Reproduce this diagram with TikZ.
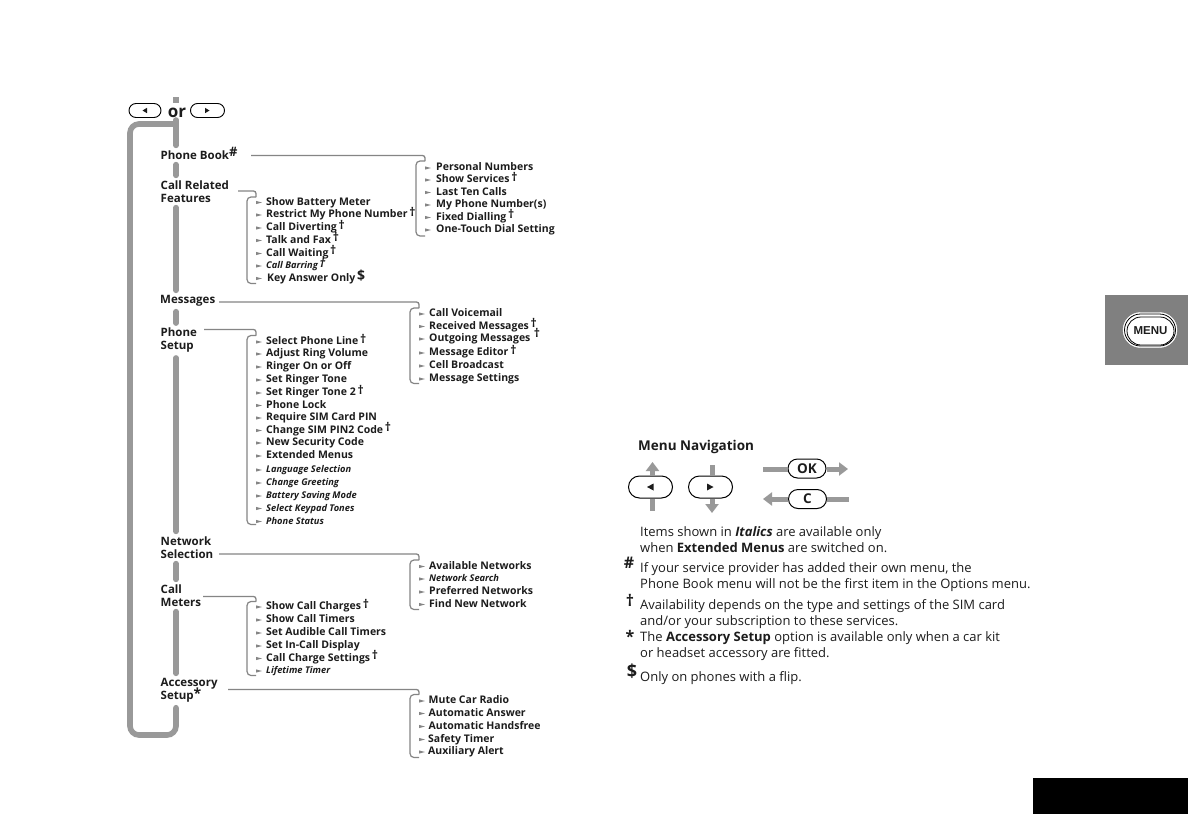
\documentclass[tikz,border=0pt]{standalone}
\usepackage{fontspec}
\setmainfont{Open Sans}
\newfontfamily\menufont{Liberation Sans}
\usetikzlibrary{shapes.misc,arrows.meta,calc}
\definecolor{sp}{HTML}{999999}
\definecolor{cn}{HTML}{858585}
\definecolor{ink}{HTML}{1C1C1C}
\newcommand{\mydg}{\,\smash{\raisebox{1.5pt}{\fontsize{12}{12}\selectfont\bfseries †}}}
\newcommand{\myhs}{\smash{\raisebox{3pt}{\fontsize{13}{13}\selectfont\bfseries \#}}}
\newcommand{\mydl}{\smash{\raisebox{0.5pt}{\fontsize{14}{14}\selectfont\bfseries \$}}}
\newcommand{\myast}{\smash{\raisebox{1pt}{\fontsize{14}{14}\selectfont\bfseries *}}}
\newcommand{\ital}{\fontsize{9.3}{10}\selectfont\itshape}
\newcommand{\wedgetick}[1]{\fill[cn] (#1) ++(0,-1.6) -- ++(6,1.6) -- ++(-6,1.6) -- cycle;}
\tikzset{
  x=1pt,y=-1pt,
  headlab/.style={anchor=west,align=left,inner sep=0pt,font=\fontsize{11.5}{13}\selectfont\bfseries,text=ink},
  itemlab/.style={anchor=west,inner sep=0pt,yshift=-1pt,text height=7.5pt,text depth=2pt,font=\fontsize{10.5}{12}\selectfont\bfseries,text=ink},
  spine/.style={line width=5.6pt,draw=sp,line cap=round,shorten <=5pt,shorten >=5pt},
  conn/.style={line width=1.3pt,draw=cn,rounded corners=2.5pt},
  brk/.style={line width=1.2pt,draw=cn,rounded corners=4pt},
  pill/.style={rounded rectangle,draw=black,line width=1pt,inner sep=0pt,fill=white,text=ink},
  bodytxt/.style={anchor=west,inner sep=0pt,yshift=-1pt,text height=9pt,text depth=3pt,font=\fontsize{13}{14}\selectfont,text=ink},
  notemark/.style={anchor=center,inner sep=0pt,font=\fontsize{16}{16}\selectfont\bfseries,text=ink},
  navline/.style={line width=5pt,draw=sp},
  navarrow/.style={line width=5pt,draw=sp,-{Triangle[width=13pt,length=9pt]}},
}
\begin{document}
\begin{tikzpicture}
\useasboundingbox (0,0) rectangle (1188,838);
\fill[white] (0,0) rectangle (1188,838);

% top buttons
\node[pill,minimum width=32pt,minimum height=14pt,line width=.9pt] (bl) at (145,110.5) {};
\node[pill,minimum width=34pt,minimum height=14pt,line width=.9pt] (br) at (207.5,110.5) {};
\fill[ink] (142.5,110.5)--(147,107.8)--(147,113.2)--cycle;
\fill[ink] (209.5,110.5)--(205,107.8)--(205,113.2)--cycle;
\node[anchor=center,inner sep=0pt,font=\fontsize{17}{17}\selectfont\bfseries,text=ink] (orw) at (177,112.5) {or};

% column
\node[headlab] (pb) at (160.5,155) {Phone Book\myhs};
\node[headlab] (crf) at (160.5,191.5) {Call Related\\Features};
\node[headlab] (msg) at (160,301) {Messages};
\node[headlab] (ps) at (160.5,340.5) {Phone\\Setup};
\node[headlab] (ns) at (160.5,547.5) {Network\\Selection};
\node[headlab] (cm) at (160.5,595.5) {Call\\Meters};
\node[headlab] (as) at (160.5,690.5) {Accessory\\Setup\myast};

\coordinate (col) at (176,0);
\coordinate (topc) at (176,97);
\coordinate (topd) at (176,103);
\coordinate (tope) at (176,120);
\coordinate (loopa) at (176,124);
\coordinate (loopl) at (130,124);
\coordinate (loopb) at (130,735);
\coordinate (loopc) at (176,735);
\draw[spine,line cap=butt,shorten <=0pt,shorten >=0pt] (topc) -- (topd);
\draw[spine,shorten <=0pt] (tope) -- (pb.north -| col);
\draw[spine] (pb.south -| col) -- (crf.north -| col);
\draw[spine] (crf.south -| col) -- (msg.north -| col);
\draw[spine] (msg.south -| col) -- (ps.north -| col);
\draw[spine] (ps.south -| col) -- (ns.north -| col);
\draw[spine] (ns.south -| col) -- (cm.north -| col);
\draw[spine] (cm.south -| col) -- (as.north -| col);
\draw[spine,rounded corners=9pt,shorten <=0pt] (loopa) -- (loopl) -- (loopb) -- (loopc) -- (as.south -| col);

% Phone Book submenu
\node[itemlab] (a1) at (436,167) {Personal Numbers};
\node[itemlab] (a2) at (436,179) {Show Services\mydg};
\node[itemlab] (a3) at (436,191.5) {Last Ten Calls};
\node[itemlab] (a4) at (436,204) {My Phone Number(s)};
\node[itemlab] (a5) at (436,216.5) {Fixed Dialling\mydg};
\node[itemlab] (a6) at (436,229) {One-Touch Dial Setting};
\coordinate (as0) at (251,155.5);
\coordinate (at) at (425,161);
\coordinate (ae) at (425,236);
\coordinate (ax) at (416,0);
\draw[conn] (as0) -| (at);
\draw[brk] (at) -- (at -| ax) -- (ae -| ax) -- (ae);
\foreach \n in {a1,a2,a3,a4,a5,a6} {\wedgetick{\n.west -| at}}

% Call Related submenu
\node[itemlab] (b1) at (266,201.5) {Show Battery Meter};
\node[itemlab] (b2) at (266,214) {Restrict My Phone Number\mydg};
\node[itemlab] (b3) at (266,227) {Call Diverting\mydg};
\node[itemlab] (b4) at (266,239.5) {Talk and Fax\mydg};
\node[itemlab] (b5) at (266,252.5) {Call Waiting\mydg};
\node[itemlab,font=\ital\bfseries] (b6) at (266,265) {Call Barring\mydg};
\node[itemlab] (b7) at (267,277.5) {Key Answer Only\,\mydl};
\coordinate (bs0) at (238,191);
\coordinate (bt) at (256,197);
\coordinate (be) at (256,283.5);
\coordinate (bx) at (247,0);
\draw[conn] (bs0) -| (bt);
\draw[brk] (bt) -- (bt -| bx) -- (be -| bx) -- (be);
\foreach \n in {b1,b2,b3,b4,b5,b6,b7} {\wedgetick{\n.west -| bt}}

% Messages submenu
\node[itemlab] (c1) at (429,313) {Call Voicemail};
\node[itemlab] (c2) at (429,325.5) {Received Messages\mydg};
\node[itemlab] (c3) at (429,338) {Outgoing Messages\,\smash{\raisebox{3pt}{\mydg}}};
\node[itemlab] (c4) at (429,352) {Message Editor\mydg};
\node[itemlab] (c5) at (429,365) {Cell Broadcast};
\node[itemlab] (c6) at (429,378) {Message Settings};
\coordinate (cs0) at (219,302);
\coordinate (ct) at (419,308);
\coordinate (ce) at (419,383.5);
\coordinate (cx) at (410,0);
\draw[conn] (cs0) -| (ct);
\draw[brk] (ct) -- (ct -| cx) -- (ce -| cx) -- (ce);
\foreach \n in {c1,c2,c3,c4,c5,c6} {\wedgetick{\n.west -| ct}}

% Phone Setup submenu
\node[itemlab] (d1) at (266,341) {Select Phone Line\mydg};
\node[itemlab] (d2) at (266,353) {Adjust Ring Volume};
\node[itemlab] (d3) at (266,366) {Ringer On or Off};
\node[itemlab] (d4) at (266,379) {Set Ringer Tone};
\node[itemlab] (d5) at (266,392) {Set Ringer Tone 2\mydg};
\node[itemlab] (d6) at (266,404.5) {Phone Lock};
\node[itemlab] (d7) at (266,417) {Require SIM Card PIN};
\node[itemlab] (d8) at (266,429.5) {Change SIM PIN2 Code\mydg};
\node[itemlab] (d9) at (266,442) {New Security Code};
\node[itemlab] (d10) at (266,455) {Extended Menus};
\node[itemlab,font=\ital\bfseries] (d11) at (266,469) {Language Selection};
\node[itemlab,font=\ital\bfseries] (d12) at (266,482) {Change Greeting};
\node[itemlab,font=\ital\bfseries] (d13) at (266,495) {Battery Saving Mode};
\node[itemlab,font=\ital\bfseries] (d14) at (266,507.5) {Select Keypad Tones};
\node[itemlab,font=\ital\bfseries] (d15) at (266,520.5) {Phone Status};
\coordinate (ds0) at (204,329.5);
\coordinate (dt) at (256,335.5);
\coordinate (de) at (256,524.5);
\coordinate (dx) at (247,0);
\draw[conn] (ds0) -| (dt);
\draw[brk] (dt) -- (dt -| dx) -- (de -| dx) -- (de);
\foreach \n in {d1,d2,d3,d4,d5,d6,d7,d8,d9,d10,d11,d12,d13,d14,d15} {\wedgetick{\n.west -| dt}}

% Network Selection submenu
\node[itemlab] (e1) at (429,565.5) {Available Networks};
\node[itemlab,font=\ital\bfseries] (e2) at (429,578) {Network Search};
\node[itemlab] (e3) at (429,591) {Preferred Networks};
\node[itemlab] (e4) at (429,603.5) {Find New Network};
\coordinate (es0) at (219,554);
\coordinate (et) at (419,560);
\coordinate (ee) at (419,609.5);
\coordinate (exx) at (410,0);
\draw[conn] (es0) -| (et);
\draw[brk] (et) -- (et -| exx) -- (ee -| exx) -- (ee);
\foreach \n in {e1,e2,e3,e4} {\wedgetick{\n.west -| et}}

% Call Meters submenu
\node[itemlab] (f1) at (266,606) {Show Call Charges\mydg};
\node[itemlab] (f2) at (266,619) {Show Call Timers};
\node[itemlab] (f3) at (266,632) {Set Audible Call Timers};
\node[itemlab] (f4) at (266,645) {Set In-Call Display};
\node[itemlab] (f5) at (266,657.5) {Call Charge Settings\mydg};
\node[itemlab,font=\ital\bfseries] (f6) at (266,670) {Lifetime Timer};
\coordinate (fs0) at (203,596.5);
\coordinate (ft) at (256,601.5);
\coordinate (fe) at (256,675.5);
\coordinate (fx) at (247,0);
\draw[conn] (fs0) -| (ft);
\draw[brk] (ft) -- (ft -| fx) -- (fe -| fx) -- (fe);
\foreach \n in {f1,f2,f3,f4,f5,f6} {\wedgetick{\n.west -| ft}}

% Accessory Setup submenu
\node[itemlab] (g1) at (428.5,700) {Mute Car Radio};
\node[itemlab] (g2) at (428.5,712.5) {Automatic Answer};
\node[itemlab] (g3) at (428.5,725.5) {Automatic Handsfree};
\node[itemlab] (g4) at (428,738.5) {Safety Timer};
\node[itemlab] (g5) at (428,751) {Auxiliary Alert};
\coordinate (gs0) at (228,689.5);
\coordinate (gt) at (419,694.5);
\coordinate (ge) at (419,757.5);
\coordinate (gx) at (410,0);
\draw[conn] (gs0) -| (gt);
\draw[brk] (gt) -- (gt -| gx) -- (ge -| gx) -- (ge);
\foreach \n in {g1,g2,g3,g4,g5} {\wedgetick{\n.west -| gt}}

% Menu Navigation
\node[anchor=west,inner sep=0pt,font=\fontsize{13.5}{14}\selectfont\bfseries,text=ink] (nav) at (638,446.5) {Menu Navigation};
\coordinate (la) at (652.5,462);
\coordinate (lb) at (652.5,510.5);
\coordinate (ra) at (712,465);
\coordinate (rb) at (712,513);
\node[pill,minimum width=44pt,minimum height=22pt] (nl) at (650.5,487) {};
\node[pill,minimum width=44pt,minimum height=22pt] (nr) at (710.5,487) {};
\draw[navarrow] (nl.north -| la) -- (la);
\draw[navline] (lb) -- (nl.south -| lb);
\draw[navline] (ra) -- (nr.north -| ra);
\draw[navarrow] (nr.south -| rb) -- (rb);
\fill[ink] (647,487)--(653.5,483.5)--(653.5,490.5)--cycle;
\fill[ink] (713.5,487)--(707,483.5)--(707,490.5)--cycle;
\node[pill,minimum width=38pt,minimum height=19pt,font=\fontsize{13.5}{13.5}\selectfont\bfseries] (ok) at (807,468.5) {OK};
\node[pill,minimum width=38pt,minimum height=19pt,font=\fontsize{13.5}{13.5}\selectfont\bfseries] (cb) at (807.5,499) {C};
\coordinate (oka) at (763,469);
\coordinate (okb) at (848,469);
\coordinate (ca) at (763,499);
\coordinate (cz) at (849,499);
\draw[navline] (oka) -- (ok.west |- oka);
\draw[navarrow] (ok.east |- okb) -- (okb);
\draw[navarrow] (cb.west |- ca) -- (ca);
\draw[navline] (cb.east |- cz) -- (cz);

\node[bodytxt] (t1) at (640,532.5) {Items shown in \textbf{\textit{Italics}} are available only};
\node[bodytxt] (t2) at (640,548.5) {when \textbf{Extended Menus} are switched on.};
\node[notemark] (m1) at (629,563) {\#};
\node[bodytxt] (t3) at (640,568.5) {If your service provider has added their own menu, the};
\node[bodytxt] (t4) at (640,584.5) {Phone Book menu will not be the first item in the Options menu.};
\node[notemark] (m2) at (630,600) {†};
\node[bodytxt] (t5) at (640,605.5) {Availability depends on the type and settings of the SIM card};
\node[bodytxt] (t6) at (640,621) {and/or your subscription to these services.};
\node[notemark] (m3) at (630,636) {*};
\node[bodytxt] (t7) at (640,637.5) {The \textbf{Accessory Setup} option is available only when a car kit};
\node[bodytxt] (t8) at (640,653) {or headset accessory are fitted.};
\node[notemark,font=\fontsize{18}{18}\selectfont\bfseries] (m4) at (632,671) {\$};
\node[bodytxt] (t9) at (640,677) {Only on phones with a flip.};

% tab
\fill[black!50] (1105,295) rectangle (1188,365);
\node[rounded rectangle,fill=white,draw=white,minimum width=54pt,minimum height=35pt,inner sep=0pt] (m0) at (1150,330) {};
\node[rounded rectangle,draw=black,line width=.8pt,minimum width=51pt,minimum height=32pt,inner sep=0pt] (m5) at (1150,330) {};
\node[rounded rectangle,draw=black,fill=white,line width=.8pt,minimum width=47pt,minimum height=28pt,inner sep=0pt,font=\menufont\fontsize{11.5}{12}\selectfont\bfseries,text=ink] (m6) at (1150.5,331) {MENU};
\fill[black] (1033,778) rectangle (1188,814);
\end{tikzpicture}
\end{document}
